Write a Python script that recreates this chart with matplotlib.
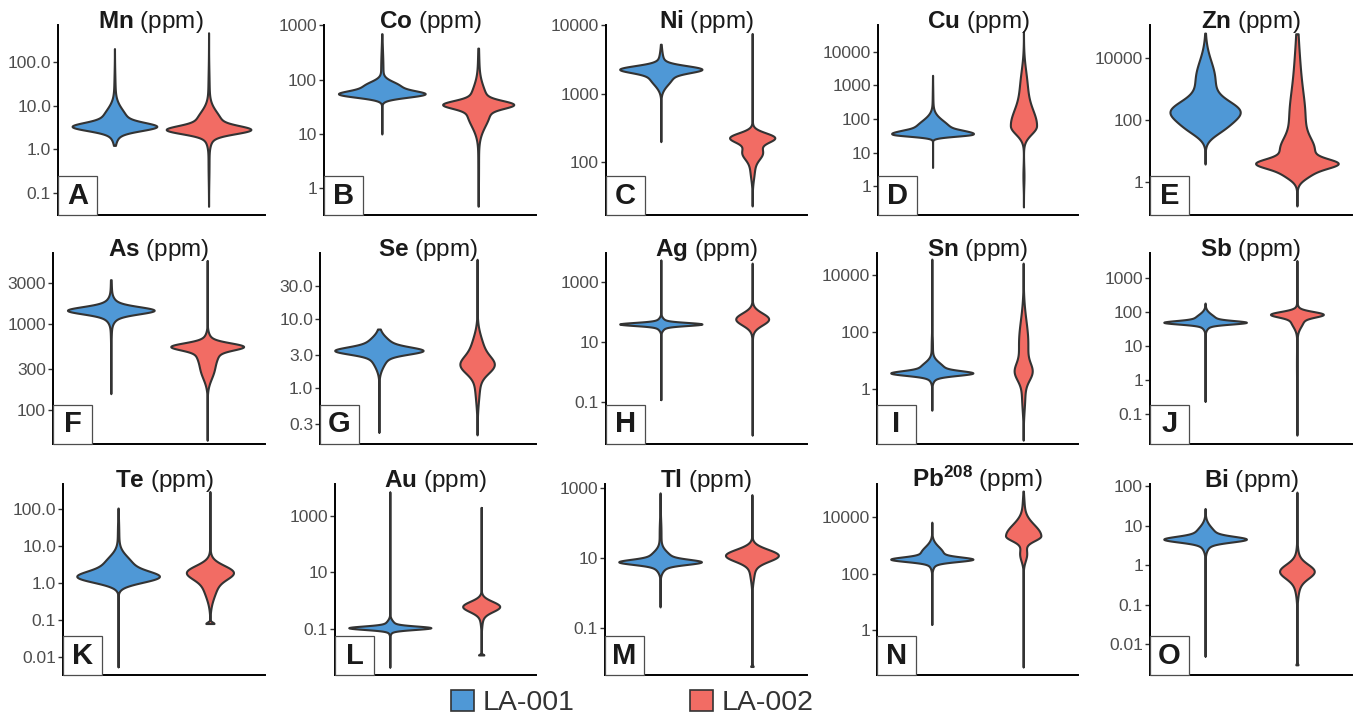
import numpy as np
import matplotlib
matplotlib.use("Agg")
import matplotlib.pyplot as plt
from matplotlib.patches import Patch, Rectangle

plt.rcParams['font.family'] = ['Liberation Sans', 'DejaVu Sans']
plt.rcParams['mathtext.fontset'] = 'custom'
plt.rcParams['mathtext.rm'] = 'Liberation Sans'
plt.rcParams['mathtext.bf'] = 'Liberation Sans:bold'

# ---- data (ppm; spreads in decades below / above each centre) ----
elements = ['Mn', 'Co', 'Ni', 'Cu', 'Zn', 'As', 'Se', 'Ag', 'Sn', 'Sb',
            'Te', 'Au', 'Tl', 'Pb^{208}', 'Bi']
letters = list('ABCDEFGHIJKLMNO')

ylims_log = [(-1.5, 2.84), (-0.49, 3.005), (1.23, 4.005), (-0.86, 4.8), (-1.06, 5.06),
             (1.6, 3.83), (-0.81, 1.96), (-2.4, 3.97), (-1.93, 4.77), (-1.88, 3.74),
             (-2.49, 2.68), (-2.63, 4.13), (-2.34, 3.11), (-1.59, 5.17), (-2.78, 2.05)]

tick_vals = [[0.1, 1, 10, 100], [1, 10, 100, 1000], [100, 1000, 10000],
             [1, 10, 100, 1000, 10000], [1, 100, 10000],
             [100, 300, 1000, 3000], [0.3, 1, 3, 10, 30], [0.1, 10, 1000],
             [1, 100, 10000], [0.1, 1, 10, 100, 1000],
             [0.01, 0.1, 1, 10, 100], [0.1, 10, 1000], [0.1, 10, 1000],
             [1, 100, 10000], [0.01, 0.1, 1, 10, 100]]
tick_labels = [["0.1", "1.0", "10.0", "100.0"], ["1", "10", "100", "1000"],
               ["100", "1000", "10000"], ["1", "10", "100", "1000", "10000"],
               ["1", "100", "10000"],
               ["100", "300", "1000", "3000"], ["0.3", "1.0", "3.0", "10.0", "30.0"],
               ["0.1", "10", "1000"], ["1", "100", "10000"], ["0.1", "1", "10", "100", "1000"],
               ["0.01", "0.1", "1.0", "10.0", "100.0"], ["0.1", "10", "1000"],
               ["0.1", "10", "1000"], ["1", "100", "10000"], ["0.01", "0.1", "1", "10", "100"]]

# LA-001: (min, max), relative width, components (centre, spread down, spread up, weight)
la001_range = [(1.23, 200), (10, 700), (200, 5300), (3.6, 2000), (3.8, 63000),
               (154, 3300), (0.23, 7.2), (0.12, 5400), (0.18, 36000), (0.24, 185),
               (0.0054, 107), (0.0045, 7000), (0.4, 720), (1.6, 6600), (0.005, 27)]
la001_width = [1.0, 1.0, 1.0, 1.0, 0.85, 1.0, 1.0, 1.0, 1.0, 1.0, 1.0, 1.0, 1.0, 1.0, 1.0]
la001_comps = [
    [(3.3, 0.09, 0.09, 1), (4.5, 0.25, 0.25, 0.4), (20, 0.4, 0.4, 0.02)],
    [(54, 0.06, 0.06, 1), (75, 0.09, 0.09, 0.45), (150, 0.35, 0.35, 0.03)],
    [(2300, 0.05, 0.05, 1), (1800, 0.12, 0.12, 0.35), (3000, 0.15, 0.15, 0.05)],
    [(35, 0.06, 0.09, 1), (50, 0.1, 0.25, 0.5), (300, 0.4, 0.4, 0.01)],
    [(180, 0.35, 0.35, 1), (2000, 0.6, 0.6, 0.3), (50, 0.25, 0.25, 0.3)],
    [(1450, 0.04, 0.04, 1), (1450, 0.08, 0.08, 0.35), (1500, 0.25, 0.25, 0.03)],
    [(3.5, 0.05, 0.05, 1), (4, 0.12, 0.12, 0.45), (2.5, 0.12, 0.12, 0.15)],
    [(40, 0.05, 0.05, 1), (40, 0.13, 0.13, 0.2)],
    [(3.6, 0.08, 0.08, 1), (5, 0.22, 0.22, 0.4), (30, 0.4, 0.4, 0.02)],
    [(50, 0.05, 0.05, 1), (60, 0.15, 0.15, 0.35)],
    [(1.45, 0.15, 0.15, 1), (3, 0.25, 0.25, 0.4), (20, 0.4, 0.4, 0.02)],
    [(0.11, 0.06, 0.06, 1), (0.13, 0.15, 0.15, 0.15)],
    [(7.7, 0.07, 0.07, 1), (9, 0.2, 0.2, 0.4), (50, 0.4, 0.4, 0.03)],
    [(320, 0.08, 0.08, 1), (500, 0.25, 0.25, 0.35)],
    [(4.5, 0.07, 0.07, 1), (5.5, 0.2, 0.2, 0.35)],
]

# LA-002
la002_range = [(0.05, 460), (0.47, 380), (23, 7600), (0.24, 40000), (0.17, 60000),
               (44, 5500), (0.21, 74), (0.008, 4300), (0.016, 26000), (0.024, 3300),
               (0.08, 300), (0.012, 2000), (0.008, 640), (0.05, 83000), (0.003, 70)]
la002_width = [1.0, 0.82, 0.55, 0.32, 1.0, 0.84, 0.39, 0.4, 0.22, 0.64,
               0.57, 0.45, 0.64, 0.43, 0.42]
la002_comps = [
    [(2.8, 0.09, 0.09, 1), (4.0, 0.25, 0.25, 0.4), (20, 0.45, 0.45, 0.02), (0.5, 0.4, 0.4, 0.015)],
    [(35, 0.07, 0.07, 1), (25, 0.25, 0.25, 0.45), (60, 0.2, 0.2, 0.12), (150, 0.35, 0.35, 0.03),
     (3, 0.5, 0.5, 0.015)],
    [(230, 0.07, 0.07, 1), (140, 0.1, 0.1, 0.45), (80, 0.15, 0.15, 0.1), (1000, 0.5, 0.5, 0.01)],
    [(63, 0.25, 0.5, 1), (1000, 0.5, 0.5, 0.25), (2, 0.3, 0.3, 0.04)],
    [(4, 0.15, 0.15, 1), (10, 0.4, 0.4, 0.5), (100, 0.8, 0.8, 0.25), (3000, 1.0, 1.0, 0.1),
     (2.0, 0.2, 0.2, 0.4)],
    [(550, 0.04, 0.04, 1), (500, 0.1, 0.1, 0.4), (300, 0.12, 0.12, 0.25)],
    [(2.15, 0.12, 0.12, 1), (3.5, 0.2, 0.2, 0.5), (1.2, 0.25, 0.25, 0.2)],
    [(59, 0.2, 0.2, 1), (40, 0.35, 0.35, 0.04)],
    [(4, 0.3, 0.3, 1), (40, 0.8, 0.8, 0.7), (0.5, 0.5, 0.5, 0.2)],
    [(87, 0.08, 0.08, 1), (60, 0.2, 0.2, 0.3), (3, 0.6, 0.6, 0.02)],
    [(2, 0.18, 0.18, 1), (1, 0.35, 0.35, 0.4), (0.08, 0.04, 0.04, 0.22)],
    [(0.63, 0.18, 0.18, 1), (0.3, 0.3, 0.3, 0.08), (0.012, 0.03, 0.03, 0.15)],
    [(12, 0.17, 0.17, 1), (5, 0.3, 0.3, 0.1), (0.008, 0.03, 0.03, 0.05)],
    [(2200, 0.18, 0.4, 1), (500, 0.25, 0.25, 0.2), (30000, 0.3, 0.3, 0.04)],
    [(0.7, 0.17, 0.17, 1), (0.6, 0.35, 0.35, 0.3), (0.003, 0.03, 0.03, 0.08)],
]

samples = ['LA-001', 'LA-002']
colors = ['#4F98D6', '#F26C64']

# ---- layout (pixels) ----
W, H = 1354, 717
row_tb = [(25, 215), (253, 444), (484, 675)]
lefts = [[58, 324, 606, 878, 1150],
         [53, 320, 606, 877, 1150],
         [63, 335, 605, 877, 1150]]
rights = [265, 536, 807, 1078, 1352]
title_dx = [-8, 0, 0, 0, 0, 0, 0, 0, 0, 0, 0, 0, 0, 0, 0]   # points


def vstats(lo, hi, comps):
    y = np.linspace(np.log10(lo), np.log10(hi), 500)
    d = np.zeros_like(y)
    for c, sd, su, w in comps:
        dy = y - np.log10(c)
        s = np.where(dy < 0, sd, su)
        d += w * np.exp(-0.5 * (dy / s) ** 2)
    m = 10 ** y[np.argmax(d)]
    return dict(coords=10 ** y, vals=d, mean=m, median=m, min=lo, max=hi)


fig = plt.figure(figsize=(W / 100, H / 100), dpi=100)

for i in range(15):
    r, c = divmod(i, 5)
    top, bot = row_tb[r]
    l, rt = lefts[r][c], rights[c]
    ax = fig.add_axes([l / W, 1 - bot / H, (rt - l) / W, (bot - top) / H])
    ax.set_yscale('log')

    stats = [vstats(*la001_range[i], la001_comps[i]),
             vstats(*la002_range[i], la002_comps[i])]
    parts = ax.violin(stats, positions=[1, 2],
                      widths=[0.9 * la001_width[i], 0.9 * la002_width[i]],
                      showextrema=False)
    for body, col in zip(parts['bodies'], colors):
        body.set_facecolor(col)
        body.set_edgecolor('#333333')
        body.set_linewidth(1.5)
        body.set_alpha(1)

    ax.set_xlim(0.4, 2.6)
    ax.set_ylim(10 ** ylims_log[i][0], 10 ** ylims_log[i][1])
    ax.yaxis.set_minor_locator(matplotlib.ticker.NullLocator())
    ax.set_yticks(tick_vals[i])
    ax.set_yticklabels(tick_labels[i])
    ax.set_xticks([])
    for s in ['top', 'right']:
        ax.spines[s].set_visible(False)
    for s in ['left', 'bottom']:
        ax.spines[s].set_linewidth(1.4)
        ax.spines[s].set_color('black')
    ax.tick_params(axis='y', length=3.5, width=1.0, color='#333333',
                   labelsize=12.5, labelcolor='#4D4D4D', pad=1.5)
    ax.patch.set_alpha(0)

    ax.annotate(r'$\mathbf{%s}$ (ppm)' % elements[i], xy=(0.5, 1.0),
                xycoords='axes fraction', xytext=(title_dx[i], -2), textcoords='offset points',
                ha='center', va='baseline', fontsize=17.5, color='#1a1a1a')

    # panel letter box
    bs = 39
    fig.add_artist(Rectangle((l / W, 1 - bot / H), bs / W, bs / H,
                             transform=fig.transFigure, facecolor='white',
                             edgecolor='#4D4D4D', linewidth=0.9, zorder=5))
    fig.text((l + bs / 2) / W, 1 - (bot - bs / 2) / H, letters[i],
             ha='center', va='center', fontsize=21, fontweight='bold',
             color='#1a1a1a', zorder=6)

handles = [Patch(facecolor=colors[0], edgecolor='#333333', linewidth=1.2),
           Patch(facecolor=colors[1], edgecolor='#333333', linewidth=1.2)]
fig.legend(handles, samples, loc='center', bbox_to_anchor=(0.467, 0.0195),
           ncol=2, frameon=False, fontsize=20.5, handlelength=0.8, handleheight=0.8,
           handletextpad=0.3, columnspacing=4.05, labelcolor='#333333')

fig.savefig('out.png', dpi=100)
